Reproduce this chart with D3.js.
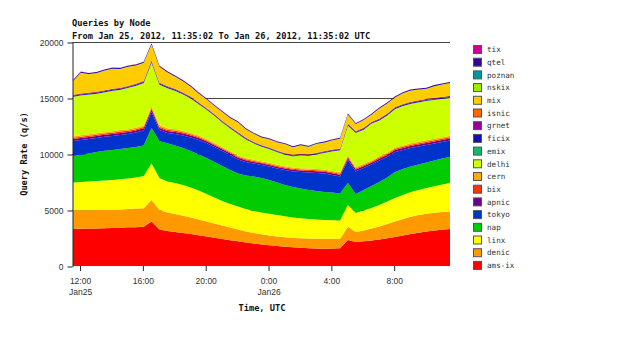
<!DOCTYPE html>
<html><head><meta charset="utf-8">
<script src="https://cdn.jsdelivr.net/npm/d3@7"></script>
<style>body{margin:0;background:#fff}svg{display:block}</style>
</head><body><svg id="c" width="640" height="338"></svg>
<script>
// ---- data (30-minute samples, starting Jan 25 2012 11:35:02 UTC) ----
const startTime = "2012-01-25T11:35:02Z";
const endTime = "2012-01-26T11:35:02Z";
const stepMinutes = 30;

const seriesNames = ["ams-ix","denic","linx","nap","tokyo","apnic","bix","cern","delhi","emix","ficix","grnet","isnic","mix","nskix","poznan","qtel","tix"];
const seriesColors = ["#FF0000","#FF9900","#FFFF00","#00CC00","#0033CC","#660099","#FF3300","#FFAA00","#CCFF00","#11BB66","#1111AA","#990099","#FF6600","#FFCC00","#99EE00","#009999","#330099","#CC0099"];

const amsix = [3300,3320,3340,3350,3370,3390,3420,3450,3470,3500,3970,3260,3130,3040,2950,2860,2750,2630,2520,2410,2300,2200,2100,2010,1930,1860,1790,1720,1670,1630,1590,1560,1550,1560,1580,2320,2140,2210,2280,2370,2470,2590,2720,2860,2960,3070,3160,3230,3300];
const denic = [1660,1650,1640,1640,1630,1630,1630,1640,1660,1660,1920,1740,1650,1600,1530,1470,1400,1340,1270,1210,1140,1060,980,940,900,860,840,840,830,840,870,880,880,870,830,1190,900,960,1070,1160,1280,1380,1480,1530,1590,1590,1590,1590,1570];
const linx = [2500,2530,2560,2600,2640,2660,2690,2720,2770,2880,3260,2860,2760,2770,2750,2680,2590,2460,2330,2180,2100,2050,2010,1960,1950,1940,1920,1880,1830,1790,1740,1710,1680,1660,1650,1940,1690,1790,1830,1920,2010,2100,2140,2220,2240,2300,2370,2460,2540];
const nap = [2360,2410,2500,2590,2640,2680,2710,2730,2720,2720,3170,3300,3430,3350,3310,3260,3210,3210,3170,3130,3030,2950,2990,3080,3080,3020,2910,2790,2720,2660,2590,2550,2500,2470,2410,1960,1700,1830,1960,2050,2140,2320,2320,2270,2270,2280,2300,2320,2320];
const tokyo = [1340,1340,1300,1250,1250,1250,1250,1250,1300,1340,1430,980,900,1030,1110,1200,1300,1340,1330,1340,1340,1250,1210,1160,1160,1200,1250,1340,1390,1470,1560,1600,1650,1570,1520,2050,2010,1960,1920,1920,1830,1790,1700,1660,1610,1560,1520,1470,1480];
const apnic = [180,175,180,185,180,180,185,180,185,190,220,185,180,180,175,175,170,160,155,150,150,150,145,145,145,140,140,140,145,145,150,150,150,155,160,170,165,160,160,165,170,175,175,180,180,180,180,185,180];
const bix = [110,110,115,110,110,110,115,110,110,115,140,115,110,110,110,105,105,95,95,90,90,90,90,90,85,85,85,85,90,90,90,90,90,90,95,120,95,95,95,100,100,105,105,110,110,110,110,110,110];
const cern = [130,130,130,135,130,130,135,130,130,135,170,140,130,130,130,125,125,115,115,110,110,110,110,110,105,105,105,105,110,110,110,110,110,110,115,150,120,115,115,120,120,125,125,130,130,130,130,130,130];
const delhi = [3510,3550,3530,3510,3550,3600,3590,3680,3730,3780,3850,3600,3590,3420,3240,3070,2790,2600,2420,2190,2020,1930,1660,1440,1300,1220,1120,1040,990,1130,1120,1310,1480,1740,1970,2620,3060,3040,3270,3180,3310,3420,3510,3510,3510,3510,3460,3420,3370];
const emix = [20,20,20,20,20,20,20,20,20,20,30,20,20,20,20,20,20,15,15,15,15,15,15,15,15,15,15,15,15,15,15,15,15,15,15,20,15,15,15,15,15,20,20,20,20,20,20,20,20];
const ficix = [80,80,80,80,80,80,80,80,85,85,100,85,80,80,80,80,75,70,70,70,70,70,70,65,65,65,65,65,65,65,65,65,70,70,70,85,75,75,75,75,75,75,80,80,80,80,80,80,80];
const grnet = [70,70,70,70,70,70,70,70,75,75,80,75,70,70,70,70,65,60,60,60,60,60,60,55,55,55,55,55,55,55,55,55,60,60,60,75,65,65,65,65,65,65,70,70,70,70,70,70,70];
const isnic = [30,30,30,30,30,30,30,30,30,30,35,30,30,30,30,30,30,25,25,25,25,25,25,25,25,25,25,25,25,25,25,25,25,25,25,30,25,25,25,25,25,30,30,30,30,30,30,30,30];
const mix = [1190,1810,1610,1630,1720,1760,1640,1680,1590,1580,1370,1370,1190,1050,970,830,750,740,700,760,740,850,730,700,640,700,700,760,650,740,640,760,740,800,840,760,590,660,600,880,880,830,920,980,920,860,1010,1060,1100];
const nskix = [20,20,20,20,20,20,20,20,20,20,30,20,20,20,20,20,20,15,15,15,15,15,15,15,15,15,15,15,15,15,15,15,15,15,15,20,15,15,15,15,15,20,20,20,20,20,20,20,20];
const poznan = [10,10,10,10,10,10,10,10,10,10,10,10,10,10,10,10,10,10,10,10,10,10,10,10,10,10,10,10,10,10,10,10,10,10,10,10,10,10,10,10,10,10,10,10,10,10,10,10,10];
const qtel = [90,90,90,90,90,90,90,90,95,95,100,95,90,90,90,90,85,80,80,80,80,80,80,75,75,75,75,75,75,75,75,75,80,80,80,90,80,80,80,80,80,85,85,90,90,90,90,90,90];
const tix = [10,10,10,10,10,10,10,10,10,10,10,10,10,10,10,10,10,10,10,10,10,10,10,10,10,10,10,10,10,10,10,10,10,10,10,10,10,10,10,10,10,10,10,10,10,10,10,10,10];

const yTickValues = [0,5000,10000,15000,20000];
const xTickLabels = ["12:00","16:00","20:00","0:00","4:00","8:00"];
const xDateLabels = ["Jan25","","","Jan26","",""];
const titleLines = ["Queries by Node","From Jan 25, 2012, 11:35:02 To Jan 26, 2012, 11:35:02 UTC"];

// ---- build table ----
const seriesValues = [amsix,denic,linx,nap,tokyo,apnic,bix,cern,delhi,emix,ficix,grnet,isnic,mix,nskix,poznan,qtel,tix];
const t0 = new Date(startTime).getTime();
const rows = amsix.map((_, i) => {
  const r = {time: new Date(t0 + i * stepMinutes * 60000)};
  seriesNames.forEach((n, k) => r[n] = seriesValues[k][i]);
  return r;
});
const stacked = d3.stack().keys(seriesNames)(rows);

const svg = d3.select("#c");
const x = d3.scaleUtc().domain([new Date(startTime), new Date(endTime)]).range([73, 450]);
const y = d3.scaleLinear().domain([0, 20000]).range([266, 42]);

const sansFont = "'Liberation Sans', Arial, sans-serif";
const monoFont = "'DejaVu Sans Mono', 'Liberation Mono', monospace";

// grid lines (behind)
svg.append("g").selectAll("line").data(yTickValues.filter(v => v > 0)).join("line")
  .attr("x1", 72).attr("x2", 450)
  .attr("y1", d => Math.round(y(d)) + 0.5).attr("y2", d => Math.round(y(d)) + 0.5)
  .attr("stroke", "#444").attr("stroke-width", 1);

// areas
const area = d3.area()
  .x(d => x(d.data.time))
  .y0(d => y(d[0])).y1(d => y(d[1]))
  .curve(d3.curveLinear);
svg.append("g").selectAll("path").data(stacked).join("path")
  .attr("d", area)
  .attr("fill", (d, i) => seriesColors[i]);

// left axis
const yAxis = svg.append("g").attr("transform", "translate(72.5,0.5)")
  .call(d3.axisLeft(y).tickValues(yTickValues).tickSize(5).tickSizeOuter(0).tickPadding(4).tickFormat(d3.format("d")));
yAxis.select(".domain").attr("stroke", "#222");
yAxis.selectAll(".tick line").attr("stroke", "#222");
yAxis.selectAll(".tick text").attr("font-family", sansFont).attr("font-size", "8.5px").attr("fill", "#333");

// bottom axis ticks
const xTicks = x.ticks(d3.utcHour.every(4));
const xAxis = svg.append("g").attr("transform", "translate(0.5,266)")
  .call(d3.axisBottom(x).tickValues(xTicks).tickSize(5).tickFormat(""));
xAxis.select(".domain").remove();
xAxis.selectAll(".tick line").attr("stroke", "#222");
xAxis.selectAll(".tick").each(function(d, i) {
  const g = d3.select(this);
  g.append("text").attr("y", 17.5).attr("text-anchor", "middle")
    .attr("font-family", sansFont).attr("font-size", "8.5px").attr("fill", "#333").text(xTickLabels[i]);
  if (xDateLabels[i]) g.append("text").attr("y", 28.5).attr("text-anchor", "middle")
    .attr("font-family", sansFont).attr("font-size", "8.5px").attr("fill", "#333").text(xDateLabels[i]);
});

// titles
svg.append("g").selectAll("text").data(titleLines).join("text")
  .attr("x", 72).attr("y", (d, i) => 26 + i * 12.5)
  .attr("font-family", monoFont).attr("font-weight", "bold").attr("font-size", "8.7px").attr("fill", "#111")
  .text(d => d);

svg.append("text").attr("transform", "translate(27,154) rotate(-90)")
  .attr("text-anchor", "middle").attr("font-family", monoFont).attr("font-weight", "bold")
  .attr("font-size", "8.7px").attr("fill", "#111").text("Query Rate (q/s)");

svg.append("text").attr("x", 262).attr("y", 310.5)
  .attr("text-anchor", "middle").attr("font-family", monoFont).attr("font-weight", "bold")
  .attr("font-size", "8.7px").attr("fill", "#111").text("Time, UTC");

// legend (top = last series)
const legendOrder = seriesNames.map((n, i) => ({name: n, color: seriesColors[i]})).reverse();
const lg = svg.append("g").selectAll("g").data(legendOrder).join("g")
  .attr("transform", (d, i) => `translate(0,${49 + i * 12.7})`);
lg.append("rect").attr("x", 473.5).attr("y", -3.5).attr("width", 8).attr("height", 8)
  .attr("fill", d => d.color).attr("stroke", "#555").attr("stroke-width", 1);
lg.append("text").attr("x", 487).attr("y", 3.2)
  .attr("font-family", monoFont).attr("font-size", "7.6px").attr("fill", "#333")
  .text(d => d.name);
</script></body></html>
